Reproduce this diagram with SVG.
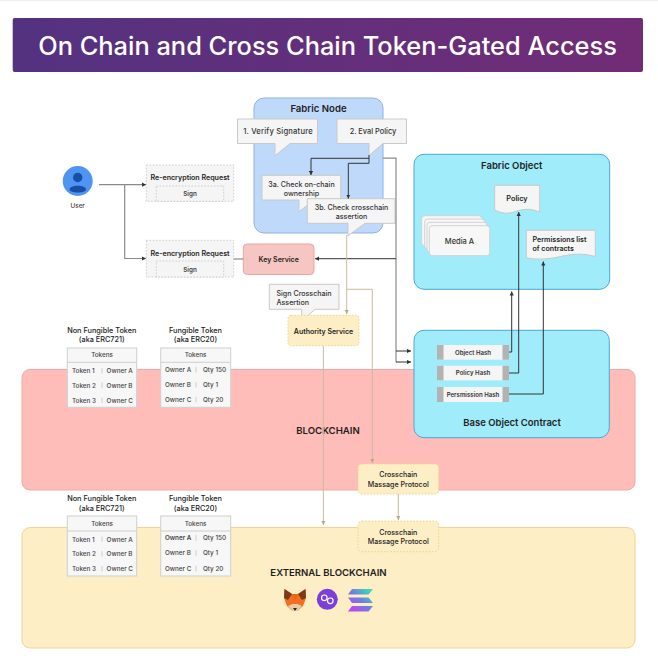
<svg xmlns="http://www.w3.org/2000/svg" width="658" height="670" viewBox="0 0 658 670">
<style>
text{font-family:Inter,"Liberation Sans",sans-serif;fill:#1f1f1f;text-anchor:middle}
.t7{font-size:7.1px;font-weight:500;fill:#333}
.tt{font-size:7.3px;font-weight:500;fill:#222}
.b7{font-size:7px;font-weight:600}
.t6{font-size:6.3px;font-weight:500;fill:#444}
.hh{font-size:6.1px;font-weight:600;fill:#333}
.s{text-anchor:start}
.h{font-size:9.6px;font-weight:600}
.call{fill:#f5f5f5;stroke:#c9c9c9;stroke-width:1}
.req{fill:#f5f5f5;stroke:#c4c4c4;stroke-width:.8;stroke-dasharray:1.6 1.6}
.cy{fill:#a0ecfb;stroke:#4ca5da;stroke-width:1}
.doc{fill:#f5f5f5;stroke:#c9c9c9;stroke-width:1}
.yel{fill:#fdeec6;stroke:#edd48e;stroke-width:1;stroke-dasharray:1.6 1.6}
.tbl{fill:#f7f7f7;stroke:#cfcfcf;stroke-width:1}
.sep{stroke:#bbb;stroke-width:.7}
.hl{stroke:#cfcfcf;stroke-width:1}
.dk{fill:none;stroke:#333;stroke-width:1}
.gr{fill:none;stroke:#8a8a8a;stroke-width:1.2}
.tan{fill:none;stroke:#c9bb9f;stroke-width:1}
.hb{fill:#f5f5f5}
.hs{fill:#b3b3b3}
.ma{fill:#f7f7f7;stroke:#d2d2d2;stroke-width:1}
</style>
<defs>
<linearGradient id="tg" x1="0" y1="0" x2="1" y2="0"><stop offset="0" stop-color="#533280"/><stop offset="1" stop-color="#722c76"/></linearGradient>
<linearGradient id="sol" gradientUnits="userSpaceOnUse" x1="350" y1="612" x2="372" y2="588"><stop offset="0" stop-color="#d13cf0"/><stop offset=".5" stop-color="#6f7fe0"/><stop offset="1" stop-color="#2ff0b0"/></linearGradient>
<marker id="ak" markerWidth="5" markerHeight="5" refX="4" refY="2.5" orient="auto" markerUnits="userSpaceOnUse"><path d="M0 .4L4 2.5L0 4.6z" fill="#333"/></marker>
<marker id="at" markerWidth="5" markerHeight="5" refX="4" refY="2.5" orient="auto" markerUnits="userSpaceOnUse"><path d="M0 .4L4 2.5L0 4.6z" fill="#b8a98a"/></marker>
</defs>
<rect x="0" y="0" width="658" height="670" fill="#fff"/>
<rect x="0" y="0" width="658" height="1" fill="#eeeeee"/>
<g id="title"><rect x="12.7" y="18" width="630.3" height="54" rx="2" fill="url(#tg)"/><text x="327.500" y="55" style="font-size:25.4px;font-weight:500;fill:#fff">On Chain and Cross Chain Token-Gated Access</text></g>

<g id="blockchain"><rect x="22" y="369.5" width="613" height="120.5" rx="8" fill="#ffbdb9" stroke="#efa8a4"/><text x="328" y="433.5" class="h">BLOCKCHAIN</text></g>
<g id="external-blockchain"><rect x="22" y="527.5" width="613" height="120.5" rx="8" fill="#fdeec6" stroke="#efd493"/><text x="328.5" y="575.5" class="h">EXTERNAL BLOCKCHAIN</text></g>

<g id="fabric-node"><rect x="254" y="98" width="129" height="135" rx="10" fill="#bfd9fb" stroke="#8fb3e3"/><text x="318.5" y="112" class="h">Fabric Node</text></g>

<g id="user"><circle cx="77.7" cy="181" r="15" fill="#4f93f3"/><circle cx="77.7" cy="177.5" r="4.7" fill="#174ea6"/><path d="M69.500 189.500C69.500 184.500 86 184.500 86 189.500C86 193.500 69.500 193.500 69.500 189.500Z" fill="#174ea6"/><text x="77.7" y="208" class="t6">User</text></g>

<g id="request-1"><rect class="req" x="146.3" y="165" width="87.4" height="36.3"/><rect class="req" x="156.3" y="186" width="67.4" height="15.3"/><text x="190" y="180" class="b7" style="font-size:7.1px">Re-encryption Request</text><text x="190" y="196.3" class="t6" style="font-weight:600">Sign</text></g>
<g id="request-2"><rect class="req" x="146.3" y="240.3" width="87.4" height="36.7"/><rect class="req" x="156.3" y="261" width="67.4" height="16"/><text x="190" y="255.5" class="b7" style="font-size:7.1px">Re-encryption Request</text><text x="190" y="271.7" class="t6" style="font-weight:600">Sign</text></g>

<g id="key-service"><rect x="243.3" y="244" width="70.7" height="30.500" rx="4" fill="#f5c6c2" stroke="#eba5a1"/><text x="278.7" y="262" class="b7">Key Service</text></g>

<g id="step-1"><path class="call" d="M237.500 119H317.500V143.500H290L275 155.700V143.500H237.500Z"/><text x="278" y="134" class="t7" style="font-size:7.6px;letter-spacing:.2px">1. Verify Signature</text></g>
<g id="step-2"><path class="call" d="M337 119H406.500V143.500H383L369 155.500V143.500H337Z"/><text x="373" y="134" class="t7" style="font-size:7.4px">2. Eval Policy</text></g>
<g id="step-3a"><path class="call" d="M262 175.300H340.700V200H314L299 211.700V200H262Z"/><text x="301.5" y="186.500" class="t7">3a. Check on-chain</text><text x="301.5" y="195.500" class="t7">ownership</text></g>
<g id="step-3b"><path class="call" d="M307.300 198.700H395V223.300H365L348 235.700V223.300H307.300Z"/><text x="351.5" y="209.500" class="t7">3b. Check crosschain</text><text x="351.5" y="219" class="t7">assertion</text></g>

<g id="sign-assertion"><path class="call" d="M269.300 284.300H339V309.300H315L301.700 321V309.300H269.300Z"/><text x="276.5" y="295.500" class="t7 s">Sign Crosschain</text><text x="276.5" y="304.500" class="t7 s">Assertion</text></g>
<g id="authority-service"><rect class="yel" x="288" y="315.3" width="71" height="30.4" rx="3"/><text x="323.5" y="333.500" class="b7">Authority Service</text></g>

<g id="fabric-object"><rect class="cy" x="414" y="154.3" width="195.7" height="135" rx="10"/><text x="511.7" y="169" class="h" style="font-size:9.5px">Fabric Object</text></g>
<g id="media-a"><rect class="ma" x="421.7" y="215.7" width="60" height="30" rx="3"/><rect class="ma" x="424.7" y="219" width="60" height="30" rx="3"/><rect class="ma" x="427" y="222.3" width="60" height="30" rx="3"/><rect class="ma" x="429.3" y="225.7" width="60.4" height="30" rx="3"/><text x="459.5" y="243.500" class="t7" style="font-size:7.5px">Media A</text></g>
<g id="policy"><path class="doc" d="M494.700 185.300H539.700V212Q528 207 517 211Q505 216 494.700 210Z"/><text x="517" y="200.500" class="b7" style="font-size:7.300px">Policy</text></g>
<g id="permissions"><path class="doc" d="M526.300 230.300H595.300V256.500Q580 252 563 256Q543 261 526.300 258Z"/><text x="532.5" y="241.500" class="b7 s" style="font-size:7.100px">Permissions list</text><text x="532.5" y="250.500" class="b7 s" style="font-size:7.100px">of contracts</text></g>

<g id="base-object-contract"><rect class="cy" x="414" y="330.3" width="195.3" height="107.4" rx="10"/><text x="512" y="425.500" class="h" style="font-size:9.500px">Base Object Contract</text></g>
<g id="object-hash"><rect class="hb" x="437" y="345" width="72" height="14.700"/><rect class="hs" x="437" y="345" width="6.500" height="14.700"/><rect class="hs" x="502.500" y="345" width="6.500" height="14.700"/><text x="473" y="354.500" class="hh">Object Hash</text></g>
<g id="policy-hash"><rect class="hb" x="437" y="365.700" width="72" height="14.700"/><rect class="hs" x="437" y="365.700" width="6.500" height="14.700"/><rect class="hs" x="502.500" y="365.700" width="6.500" height="14.700"/><text x="473" y="375" class="hh">Policy Hash</text></g>
<g id="permission-hash"><rect class="hb" x="437" y="387" width="72" height="15"/><rect class="hs" x="437" y="387" width="6.500" height="15"/><rect class="hs" x="502.500" y="387" width="6.500" height="15"/><text x="473" y="396.700" class="hh">Persmission Hash</text></g>

<g id="crosschain-1"><rect class="yel" x="358" y="464" width="80.7" height="30" rx="4"/><text x="398.3" y="477" class="t7" style="fill:#222">Crosschain</text><text x="398.3" y="486.500" class="t7" style="fill:#222">Massage Protocol</text></g>
<g id="crosschain-2"><rect class="yel" x="358" y="521" width="80.7" height="30.7" rx="4"/><text x="398.3" y="534.500" class="t7" style="fill:#222">Crosschain</text><text x="398.3" y="544" class="t7" style="fill:#222">Massage Protocol</text></g>

<g id="nft-table-1"><text x="101.8" y="333" class="tt">Non Fungible Token</text><text x="101.8" y="342" class="tt">(aka ERC721)</text><rect class="tbl" x="67.3" y="348" width="69.4" height="59.3"/><path class="hl" d="M67.300 362.300H136.700"/><text x="102" y="357.300" class="t6">Tokens</text>
<text x="72" y="373" class="t6 s">Token 1</text><text x="106.600" y="373" class="t6 s">Owner A</text><path class="sep" d="M102 368V373.500"/>
<text x="72" y="387.500" class="t6 s">Token 2</text><text x="106.600" y="387.500" class="t6 s">Owner B</text><path class="sep" d="M102 382.500V388"/>
<text x="72" y="402.500" class="t6 s">Token 3</text><text x="106.600" y="402.500" class="t6 s">Owner C</text><path class="sep" d="M102 397.500V403"/></g>
<g id="ft-table-1"><text x="195.5" y="333" class="tt">Fungible Token</text><text x="195.5" y="342" class="tt">(aka ERC20)</text><rect class="tbl" x="160.7" y="348" width="70" height="59.3"/><path class="hl" d="M160.700 362.300H230.700"/><text x="195.5" y="357.300" class="t6">Tokens</text>
<text x="165" y="371.800" class="t6 s">Owner A</text><text x="203" y="371.800" class="t6 s">Qty 150</text><path class="sep" d="M196 367V372.500"/>
<text x="165" y="386.500" class="t6 s">Owner B</text><text x="203" y="386.500" class="t6 s">Qty 1</text><path class="sep" d="M196 382V387.500"/>
<text x="165" y="401.800" class="t6 s">Owner C</text><text x="203" y="401.800" class="t6 s">Qty 20</text><path class="sep" d="M196 397V402.500"/></g>

<g id="nft-table-2"><text x="101.8" y="501" class="tt">Non Fungible Token</text><text x="101.8" y="510.500" class="tt">(aka ERC721)</text><rect class="tbl" x="67.3" y="516" width="69.4" height="60"/><path class="hl" d="M67.300 531H136.700"/><text x="102" y="525.700" class="t6">Tokens</text>
<text x="72" y="541.500" class="t6 s">Token 1</text><text x="106.600" y="541.500" class="t6 s">Owner A</text><path class="sep" d="M102 536.500V542"/>
<text x="72" y="556.200" class="t6 s">Token 2</text><text x="106.600" y="556.200" class="t6 s">Owner B</text><path class="sep" d="M102 551V556.500"/>
<text x="72" y="570.800" class="t6 s">Token 3</text><text x="106.600" y="570.800" class="t6 s">Owner C</text><path class="sep" d="M102 566V571.500"/></g>
<g id="ft-table-2"><text x="195.5" y="501" class="tt">Fungible Token</text><text x="195.5" y="510.500" class="tt">(aka ERC20)</text><rect class="tbl" x="160.7" y="516" width="70" height="60"/><path class="hl" d="M160.700 531H230.700"/><text x="195.5" y="525.700" class="t6">Tokens</text>
<text x="165" y="540.200" class="t6 s" style="font-weight:600">Owner A</text><text x="203" y="540.200" class="t6 s">Qty 150</text><path class="sep" d="M196 535V541"/>
<text x="165" y="555.200" class="t6 s">Owner B</text><text x="203" y="555.200" class="t6 s">Qty 1</text><path class="sep" d="M196 550V556"/>
<text x="165" y="570.500" class="t6 s">Owner C</text><text x="203" y="570.500" class="t6 s">Qty 20</text><path class="sep" d="M196 565.500V571.500"/></g>

<g id="metamask"><path d="M284.500 589L292 594H298L305.500 589L306 598L303 606L297.500 611H292.500L287 606L284 598Z" fill="#f0701f"/><path d="M284.500 589L292 594L288 600L284 598Z" fill="#7a3c18"/><path d="M305.500 589L298 594L302 600L306 598Z" fill="#7a3c18"/><path d="M292 594H298L295 601Z" fill="#e8671a"/><path d="M288 606L292.500 604H297.500L302 606L297.500 611H292.500Z" fill="#e8c9a8"/><path d="M293 608H297L295 611Z" fill="#33261c"/></g>
<g id="polygon"><circle cx="327.3" cy="599.3" r="10.5" fill="#7c3fd9"/><circle cx="324.3" cy="597.800" r="2.8" fill="none" stroke="#fff" stroke-width="1.200"/><circle cx="330.3" cy="600.800" r="2.800" fill="none" stroke="#fff" stroke-width="1.200"/></g>
<g id="solana" fill="url(#sol)"><path d="M352 589H373L368.500 594.500H348Z"/><path d="M348 597.500H368.500L373 603H352Z"/><path d="M352 606H373L368.500 611.500H348Z"/></g>

<g id="connectors">
<path class="gr" d="M99 184.700H146" marker-end="url(#ak)"/>
<path class="gr" d="M124.700 184.700V258.500H146" marker-end="url(#ak)"/>
<path class="gr" d="M233.700 259H243.300"/>
<path class="dk" d="M369 155V163.300M369 158.300H311V175" marker-end="url(#ak)"/>
<path class="dk" d="M369 163.300H348.300V198.500" marker-end="url(#ak)"/>
<path class="gr" d="M383 158.200H396V362"/>
<path class="dk" d="M396 258.700H315" marker-end="url(#ak)"/>
<path class="dk" d="M396 351H411" marker-end="url(#ak)"/>
<path class="dk" d="M396 362H411" marker-end="url(#ak)"/>
<path class="tan" d="M346.700 235V314" marker-end="url(#at)"/>
<path class="tan" d="M346.700 289.300H372.300V463" marker-end="url(#at)"/>
<path class="tan" d="M323.400 346V525" marker-end="url(#at)"/>
<path class="tan" d="M398.300 494V520" marker-end="url(#at)"/>
<path class="dk" d="M509 352H511.700V291.500" marker-end="url(#ak)"/>
<path class="dk" d="M509 373H518.700V212" marker-end="url(#ak)"/>
<path class="dk" d="M509 394H543.300V261.500" marker-end="url(#ak)"/>
</g>
</svg>
